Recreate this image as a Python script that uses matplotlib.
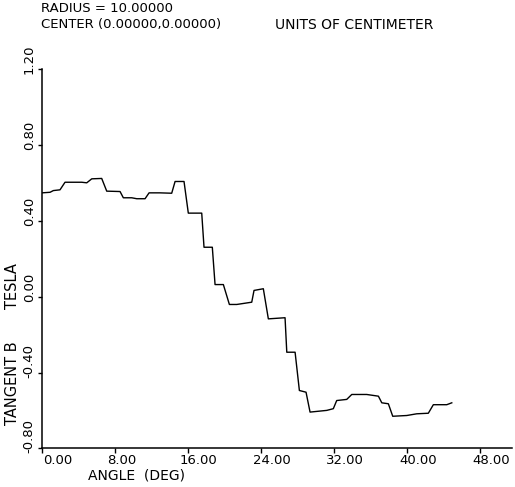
import matplotlib.pyplot as plt
import matplotlib.transforms as mtransforms

angle_deg = [0.0, 0.88, 1.24, 1.97, 2.52, 4.35, 4.90, 5.45, 6.54, 7.09,
             8.55, 8.91, 9.83, 10.38, 11.29, 11.73, 12.93, 14.21, 14.58, 15.56,
             16.03, 17.50, 17.75, 18.66, 18.96, 19.87, 20.53, 21.34, 22.98, 23.23,
             24.25, 24.80, 26.63, 26.82, 27.73, 28.20, 28.93, 29.37, 31.20, 31.92,
             32.29, 33.39, 33.94, 35.58, 36.86, 37.23, 37.95, 38.43, 39.97, 41.06,
             42.33, 42.88, 44.35, 44.90]
b_tesla = [0.549, 0.552, 0.561, 0.565, 0.605, 0.605, 0.602, 0.623, 0.625, 0.558,
           0.556, 0.523, 0.523, 0.518, 0.518, 0.549, 0.549, 0.547, 0.609, 0.609,
           0.442, 0.442, 0.262, 0.262, 0.065, 0.065, -0.040, -0.040, -0.028, 0.034,
           0.043, -0.116, -0.110, -0.292, -0.292, -0.494, -0.503, -0.608, -0.599, -0.590,
           -0.547, -0.541, -0.515, -0.515, -0.524, -0.559, -0.564, -0.630, -0.626, -0.617,
           -0.614, -0.569, -0.569, -0.559]

x_ticks = [0, 8, 16, 24, 32, 40, 48]
x_labels = ["0.00", "8.00", "16.00", "24.00", "32.00", "40.00", "48.00"]
y_ticks = [-0.8, -0.4, 0.0, 0.4, 0.8, 1.2]
y_labels = ["-0.80", "-0.40", "0.00", "0.40", "0.80", "1.20"]

fig = plt.figure(figsize=(5.15, 4.87), dpi=100)
ax = fig.add_axes([0.0816, 0.0791, 0.9126, 0.7782])

ax.plot(angle_deg, b_tesla, color="black", lw=1.0)

ax.set_xlim(0, 51.5)
ax.set_ylim(-0.8, 1.2)
for s in ["top", "right"]:
    ax.spines[s].set_visible(False)
for s in ["left", "bottom"]:
    ax.spines[s].set_linewidth(1.1)

ax.set_xticks(x_ticks, x_labels, fontsize=9.5)
ax.set_yticks(y_ticks, y_labels, fontsize=9.5, rotation=90)
ax.tick_params(axis="x", direction="out", length=3.5, width=1, pad=0.5)
ax.tick_params(axis="y", direction="out", length=3, width=1, pad=1.5)

# plotter style: labels start near the tick instead of being centred on it
for lab, dx in zip(ax.get_xticklabels(), [1, -8, -8, -8, -8, -8, -8]):
    lab.set_ha("left")
    lab.set_transform(lab.get_transform() + mtransforms.ScaledTranslation(dx / 100, 0, fig.dpi_scale_trans))
for lab in ax.get_yticklabels():
    lab.set_va("bottom")
    lab.set_transform(lab.get_transform() + mtransforms.ScaledTranslation(0, -5 / 100, fig.dpi_scale_trans))

ax.set_xlabel("ANGLE  (DEG)", fontsize=10)
ax.xaxis.set_label_coords(0.2, -0.053, transform=ax.transAxes)
ax.xaxis.label.set_ha("center")
ax.xaxis.label.set_va("top")
ax.set_ylabel("TANGENT B       TESLA", fontsize=10.5)
ax.yaxis.set_label_coords(-0.047, 0.276)

fig.text(0.08, 0.996, "RADIUS = 10.00000", fontsize=9.5, va="top")
fig.text(0.08, 0.963, "CENTER (0.00000,0.00000)", fontsize=9.5, va="top")
fig.text(0.534, 0.963, "UNITS OF CENTIMETER", fontsize=10, va="top")

fig.savefig("out.png", dpi=100)
